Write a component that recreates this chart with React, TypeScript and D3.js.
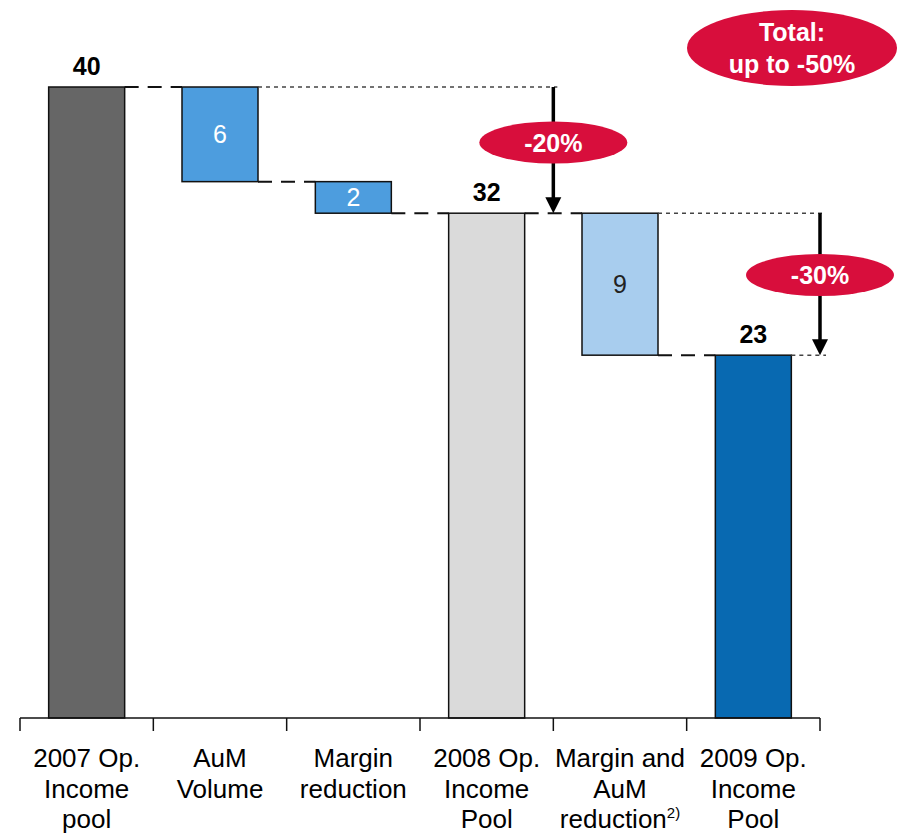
import React from "react";
import * as d3 from "d3";

const categories = ["2007", "AuM", "Margin", "2008", "MarginAuM", "2009"];
const categoryLines: string[][] = [
  ["2007 Op.", "Income", "pool"],
  ["AuM", "Volume"],
  ["Margin", "reduction"],
  ["2008 Op.", "Income", "Pool"],
  ["Margin and", "AuM", "reduction"],
  ["2009 Op.", "Income", "Pool"],
];
const categorySup = ["", "", "", "", "2)", ""];
const values = [40, -6, -2, 32, -9, 23];
const isTotal = [true, false, false, true, false, true];
const barColors = ["#666666", "#4D9DDE", "#4D9DDE", "#DADADA", "#A8CDEE", "#0869B1"];
const innerLabelColors = ["", "#FFFFFF", "#FFFFFF", "", "#222222", ""];
const changeLabels = ["-20%", "-30%"];
const totalLabel = ["Total:", "up to -50%"];

const W = 903;
const H = 836;
const FONT = "'Liberation Sans', Arial, sans-serif";
const RED = "#D80E3C";

export default function App() {
  const x = d3.scaleBand<string>().domain(categories).range([20, 820]).padding(0);
  const y = d3.scaleLinear().domain([0, 40]).range([718, 87]);
  const bw = x.bandwidth() * 0.57;

  let running = 0;
  const bars = values.map((v, i) => {
    let lo: number, hi: number, end: number;
    if (isTotal[i]) {
      lo = 0;
      hi = v;
      end = v;
    } else {
      const start = running;
      end = running + v;
      lo = Math.min(start, end);
      hi = Math.max(start, end);
    }
    running = end;
    const cx = (x(categories[i]) as number) + x.bandwidth() / 2;
    return { i, lo, hi, end, cx, x0: cx - bw / 2, x1: cx + bw / 2 };
  });

  const arrow1X = x(categories[4]) as number;
  const arrow2X = 820;

  const dashed: { x1: number; x2: number; yv: number }[] = [];
  for (let i = 0; i < bars.length - 1; i++) {
    dashed.push({ x1: bars[i].x1, x2: bars[i + 1].x0, yv: bars[i].end });
  }

  const dotted = [
    { x1: bars[1].x1, x2: arrow1X + 4, yv: values[0] },
    { x1: bars[4].x1, x2: arrow2X + 6, yv: values[3] },
    { x1: bars[5].x1, x2: arrow2X + 6, yv: values[5] },
  ];

  const arrows = [
    { ax: arrow1X, from: values[0], to: values[3], label: changeLabels[0], ly: 142.5 },
    { ax: arrow2X, from: values[3], to: values[5], label: changeLabels[1], ly: 275 },
  ];

  const ticks = [...categories.map((c) => x(c) as number), 820];

  return (
    <svg width={W} height={H} style={{ display: "block", position: "absolute", left: 0, top: 0 }} fontFamily={FONT}>
      <rect width={W} height={H} fill="#fff" />
      {bars.map((b) => (
        <rect
          key={b.i}
          x={b.x0}
          y={y(b.hi)}
          width={bw}
          height={y(b.lo) - y(b.hi)}
          fill={barColors[b.i]}
          stroke="#111"
          strokeWidth={1.5}
        />
      ))}
      {dashed.map((d, k) => (
        <line key={k} x1={d.x1} x2={d.x2} y1={y(d.yv)} y2={y(d.yv)} stroke="#111" strokeWidth={2} strokeDasharray="14,9" />
      ))}
      {dotted.map((d, k) => (
        <line key={k} x1={d.x1} x2={d.x2} y1={y(d.yv)} y2={y(d.yv)} stroke="#444" strokeWidth={1.5} strokeDasharray="4,4" />
      ))}
      {bars.filter((b) => isTotal[b.i]).map((b) => (
        <text key={b.i} x={b.cx} y={y(b.hi) - 12} textAnchor="middle" fontSize={25} fontWeight="bold" fill="#000">
          {values[b.i]}
        </text>
      ))}
      {bars.filter((b) => !isTotal[b.i]).map((b) => (
        <text
          key={b.i}
          x={b.cx}
          y={(y(b.hi) + y(b.lo)) / 2 + 9}
          textAnchor="middle"
          fontSize={25}
          fill={innerLabelColors[b.i]}
        >
          {Math.abs(values[b.i])}
        </text>
      ))}
      {arrows.map((a, k) => {
        const y0 = y(a.from);
        const y1 = y(a.to);
        return (
          <g key={k}>
            <line x1={a.ax} x2={a.ax} y1={y0} y2={y1 - 14} stroke="#000" strokeWidth={3.5} />
            <path d={`M${a.ax - 8},${y1 - 16} L${a.ax + 8},${y1 - 16} L${a.ax},${y1} Z`} fill="#000" />
            <ellipse cx={a.ax} cy={a.ly} rx={74} ry={21} fill={RED} />
            <text x={a.ax} y={a.ly + 9} textAnchor="middle" fontSize={25} fontWeight="bold" fill="#fff">
              {a.label}
            </text>
          </g>
        );
      })}
      <ellipse cx={792} cy={48} rx={105} ry={38} fill={RED} />
      <text x={792} y={41} textAnchor="middle" fontSize={25} fontWeight="bold" fill="#fff">
        {totalLabel[0]}
      </text>
      <text x={792} y={73} textAnchor="middle" fontSize={25} fontWeight="bold" fill="#fff">
        {totalLabel[1]}
      </text>
      <line x1={20} x2={820} y1={718} y2={718} stroke="#111" strokeWidth={1.5} />
      {ticks.map((t, k) => (
        <line key={k} x1={t} x2={t} y1={718} y2={731} stroke="#111" strokeWidth={1.5} />
      ))}
      {categoryLines.map((lines, i) => {
        const cx = (x(categories[i]) as number) + x.bandwidth() / 2;
        return (
          <text key={i} textAnchor="middle" fontSize={26} fill="#000">
            {lines.map((ln, j) => (
              <tspan key={j} x={cx} y={767 + j * 30.5}>
                {ln}
                {j === lines.length - 1 && categorySup[i] ? (
                  <tspan fontSize={15} dy={-10}>
                    {categorySup[i]}
                  </tspan>
                ) : null}
              </tspan>
            ))}
          </text>
        );
      })}
    </svg>
  );
}
